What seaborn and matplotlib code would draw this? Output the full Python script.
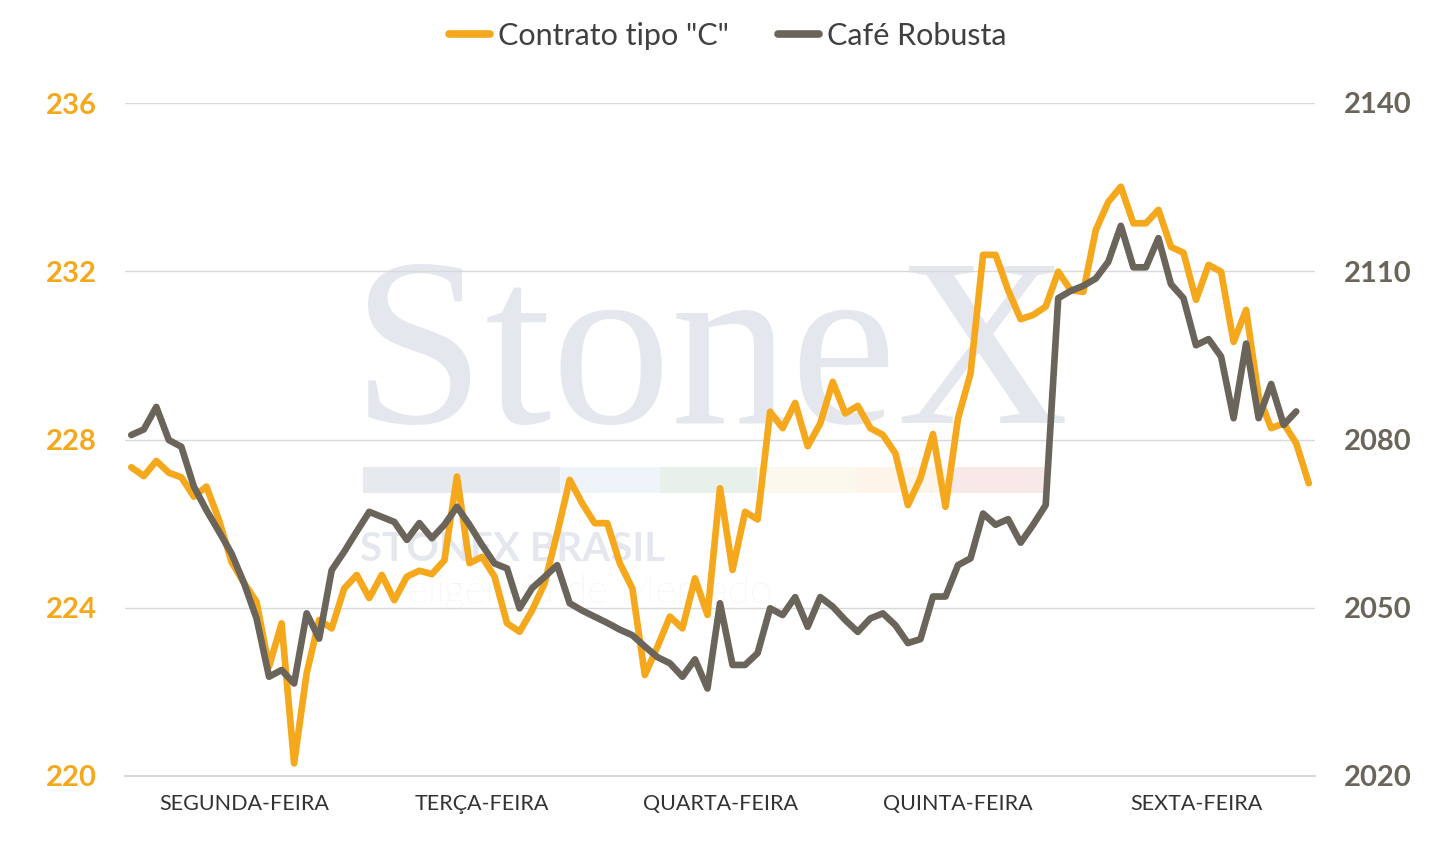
import matplotlib.pyplot as plt
import matplotlib.patches as mpatches
import numpy as np
import pandas as pd
import seaborn as sns

days = ["SEGUNDA-FEIRA", "TERÇA-FEIRA", "QUARTA-FEIRA", "QUINTA-FEIRA", "SEXTA-FEIRA"]
points_per_day = 19

contrato_c = [
    227.34, 227.13, 227.49, 227.21, 227.10, 226.64, 226.88, 226.09, 225.09, 224.59,
    224.14, 222.60, 223.63, 220.30, 222.44, 223.71, 223.51, 224.46, 224.78, 224.23,
    224.78, 224.18, 224.74, 224.88, 224.80, 225.13, 227.12, 225.06, 225.21, 224.74,
    223.63, 223.43, 223.94, 224.58, 225.77, 227.04, 226.48, 226.01, 226.01, 225.06,
    224.46, 222.40, 223.07, 223.79, 223.51, 224.70, 223.83, 226.84, 224.90, 226.28,
    226.10, 228.66, 228.27, 228.87, 227.84, 228.38, 229.37, 228.62, 228.80, 228.27,
    228.11, 227.67, 226.44, 227.08, 228.13, 226.40, 228.50, 229.57, 232.39, 232.39,
    231.55, 230.86, 230.96, 231.16, 231.99, 231.55, 231.51, 232.98, 233.65, 234.01,
    233.14, 233.14, 233.46, 232.58, 232.44, 231.32, 232.15, 231.99, 230.32, 231.08,
    229.02, 228.27, 228.38, 227.91, 226.96,
]

cafe_robusta = [
    2080.8, 2081.8, 2085.8, 2079.9, 2078.7, 2071.6, 2067.4, 2063.6, 2059.7, 2054.4,
    2048.1, 2037.7, 2038.9, 2036.5, 2049.0, 2044.5, 2056.7, 2060.0, 2063.6, 2067.1,
    2066.2, 2065.3, 2062.1, 2065.1, 2062.4, 2064.8, 2068.0, 2064.8, 2061.2, 2057.9,
    2057.0, 2049.9, 2053.5, 2055.5, 2057.6, 2050.8, 2049.5, 2048.4, 2047.3, 2046.1,
    2045.1, 2043.1, 2041.2, 2040.1, 2037.7, 2040.8, 2035.6, 2050.8, 2039.8, 2039.8,
    2041.9, 2049.9, 2048.7, 2051.9, 2046.6, 2051.9, 2050.2, 2047.8, 2045.7, 2048.1,
    2049.0, 2046.9, 2043.7, 2044.4, 2052.0, 2052.0, 2057.6, 2058.8, 2066.8, 2064.8,
    2065.8, 2061.6, 2064.8, 2068.3, 2105.2, 2106.5, 2107.4, 2108.7, 2111.7, 2118.1,
    2110.7, 2110.7, 2115.9, 2107.7, 2105.2, 2096.8, 2097.9, 2094.8, 2083.8, 2097.1,
    2083.8, 2089.9, 2082.6, 2085.0,
]

left_ticks = [220, 224, 228, 232, 236]
right_ticks = [2020, 2050, 2080, 2110, 2140]

ORANGE = "#F5A81C"
GRAY = "#6B645A"
GRID = "#D9D9D9"
WATERMARK = "#E4E8EE"

W, H = 1455, 842


def fx(px):
    return px / W


def fy(py):
    return 1 - py / H


sns.set_theme(style="white")
plt.rcParams["font.family"] = ["Lato", "DejaVu Sans"]

df_c = pd.DataFrame({"step": np.arange(len(contrato_c)), "value": contrato_c})
df_r = pd.DataFrame({"step": np.arange(len(cafe_robusta)), "value": cafe_robusta})

fig = plt.figure(figsize=(W / 100, H / 100), dpi=100)
ax = fig.add_axes([fx(125), fy(776), fx(1315) - fx(125), fy(103) - fy(776)])
ax2 = ax.twinx()

# watermark (logo drawn as text, behind the lines)
ax.text(fx(352), fy(423), "StoneX", transform=fig.transFigure, family="Liberation Serif",
        fontsize=172, color=WATERMARK, zorder=0.1)
bar_colors = ["#E6E9EE", "#EEF4F9", "#E7F0EA", "#FBF9EE", "#FDF5E9", "#F8E9E9"]
bar_edges = [363, 560, 660, 757, 855, 950, 1045]
for c, x0, x1 in zip(bar_colors, bar_edges[:-1], bar_edges[1:]):
    ax.add_patch(mpatches.Rectangle((fx(x0), fy(493)), fx(x1) - fx(x0), fy(467) - fy(493),
                                    transform=fig.transFigure, color=c, zorder=0.1, lw=0))
ax.text(fx(360), fy(561), "STONEX BRASIL", transform=fig.transFigure, fontsize=29,
        fontweight="bold", color=WATERMARK, zorder=0.1)
ax.text(fx(362), fy(603), "Inteligência de Mercado", transform=fig.transFigure, fontsize=29,
        fontweight="light", color="#EBEEF2", zorder=0.1)

sns.lineplot(data=df_c, x="step", y="value", color=ORANGE, lw=4.8, ax=ax,
             label='Contrato tipo "C"', solid_joinstyle="round", solid_capstyle="round")
sns.lineplot(data=df_r, x="step", y="value", color=GRAY, lw=4.8, ax=ax2,
             label="Café Robusta", solid_joinstyle="round", solid_capstyle="round")

n = len(contrato_c)
ax.set_xlim(-0.5, n - 0.5)
ax.set_ylim(left_ticks[0], left_ticks[-1])
ax2.set_ylim(right_ticks[0], right_ticks[-1])

ax.set_xticks(np.arange(-0.5, n, points_per_day))
ax.set_xticklabels([])
ax.set_xticks(np.arange(len(days)) * points_per_day + (points_per_day - 1) / 2, minor=True)
ax.set_xticklabels(days, minor=True, fontsize=15.5, color="#333333")
ax.tick_params(axis="x", which="major", length=14, width=1.5, direction="inout", color=GRID)
ax.tick_params(axis="x", which="minor", length=0, pad=13)

ax.set_yticks(left_ticks)
ax.set_yticklabels([str(t) for t in left_ticks], fontsize=21, fontweight="bold", color=ORANGE)
ax.tick_params(axis="y", length=0, pad=20)
ax2.set_yticks(right_ticks)
ax2.set_yticklabels([str(t) for t in right_ticks], fontsize=21, fontweight="bold", color=GRAY)
ax2.tick_params(axis="y", length=0, pad=21)

ax.grid(axis="y", color=GRID, lw=1)
ax.grid(axis="x", visible=False)
ax.set_axisbelow(True)
for name, sp in ax.spines.items():
    sp.set_visible(name == "bottom")
ax.spines["bottom"].set_color(GRID)
ax.spines["bottom"].set_linewidth(1.5)
for sp in ax2.spines.values():
    sp.set_visible(False)
ax.set_xlabel("")
ax.set_ylabel("")
ax2.set_ylabel("")

handles = ax.get_legend_handles_labels()[0] + ax2.get_legend_handles_labels()[0]
labels = ax.get_legend_handles_labels()[1] + ax2.get_legend_handles_labels()[1]
ax.get_legend().remove()
ax2.get_legend().remove()
leg = fig.legend(handles, labels, loc="center", bbox_to_anchor=(0.5, fy(36)), ncol=2,
                 frameon=False, fontsize=22, handlelength=1.35, handletextpad=0.25,
                 columnspacing=1.6)
for t in leg.get_texts():
    t.set_color("#404040")
for h in leg.legend_handles:
    h.set_linewidth(5.5)

fig.savefig("out.png", dpi=100)
plt.close(fig)
